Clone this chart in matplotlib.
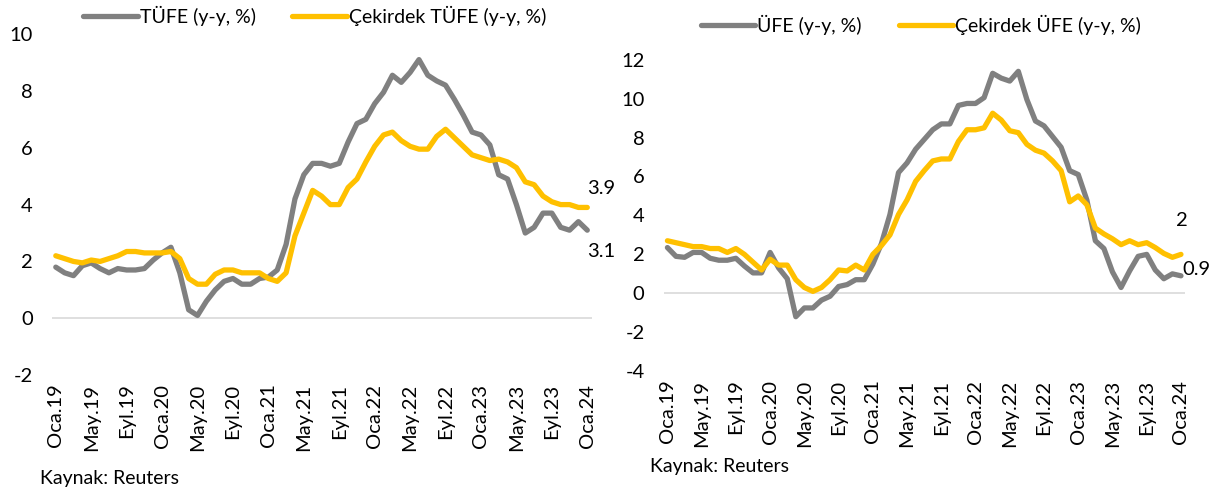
import numpy as np
import matplotlib
matplotlib.use('Agg')
from matplotlib import pyplot as plt

plt.rcParams['font.family'] = ['Lato', 'DejaVu Sans']
plt.rcParams['axes.unicode_minus'] = False

# monthly data, Oca.19 .. Oca.24
months = ['Oca', 'Şub', 'Mar', 'Nis', 'May', 'Haz', 'Tem', 'Ağu', 'Eyl', 'Eki', 'Kas', 'Ara']
labels = ['%s.%02d' % (months[i % 12], 19 + i // 12) for i in range(61)]

tufe = [1.8, 1.6, 1.5, 1.85, 1.95, 1.75, 1.6, 1.75, 1.7, 1.7, 1.75, 2.05,
        2.3, 2.5, 1.6, 0.3, 0.1, 0.6, 1.0, 1.3, 1.4, 1.2, 1.2, 1.4,
        1.45, 1.7, 2.6, 4.2, 5.05, 5.45, 5.45, 5.35, 5.45, 6.2, 6.85, 7.0,
        7.55, 7.95, 8.55, 8.3, 8.65, 9.1, 8.55, 8.35, 8.2, 7.7, 7.15, 6.55,
        6.45, 6.1, 5.05, 4.9, 4.0, 3.0, 3.2, 3.7, 3.7, 3.2, 3.1, 3.4, 3.1]
cekirdek_tufe = [2.2, 2.1, 2.0, 1.95, 2.05, 2.0, 2.1, 2.2, 2.35, 2.35, 2.3, 2.3,
                 2.3, 2.35, 2.1, 1.4, 1.2, 1.2, 1.55, 1.7, 1.7, 1.6, 1.6, 1.6,
                 1.4, 1.3, 1.6, 2.9, 3.7, 4.5, 4.3, 4.0, 4.0, 4.6, 4.9, 5.5,
                 6.05, 6.45, 6.55, 6.25, 6.05, 5.95, 5.95, 6.4, 6.65, 6.35, 6.05, 5.75,
                 5.65, 5.55, 5.6, 5.5, 5.3, 4.8, 4.7, 4.3, 4.1, 4.0, 4.0, 3.9, 3.9]

ufe = [2.35, 1.9, 1.85, 2.1, 2.1, 1.8, 1.7, 1.7, 1.8, 1.4, 1.05, 1.05,
       2.1, 1.3, 0.75, -1.2, -0.75, -0.75, -0.35, -0.15, 0.35, 0.45, 0.7, 0.7,
       1.5, 2.55, 4.05, 6.2, 6.7, 7.4, 7.9, 8.4, 8.7, 8.7, 9.65, 9.75,
       9.75, 10.05, 11.3, 11.05, 10.9, 11.4, 9.95, 8.85, 8.6, 8.05, 7.5, 6.3,
       6.1, 4.8, 2.7, 2.3, 1.1, 0.3, 1.15, 1.9, 2.0, 1.2, 0.75, 1.0, 0.9]
cekirdek_ufe = [2.7, 2.6, 2.5, 2.4, 2.4, 2.3, 2.3, 2.1, 2.3, 2.0, 1.6, 1.2,
                1.75, 1.45, 1.45, 0.7, 0.3, 0.1, 0.3, 0.7, 1.2, 1.15, 1.45, 1.2,
                2.0, 2.45, 3.0, 4.05, 4.8, 5.75, 6.3, 6.8, 6.9, 6.9, 7.8, 8.4,
                8.4, 8.5, 9.25, 8.9, 8.35, 8.25, 7.65, 7.35, 7.2, 6.8, 6.3, 4.7,
                5.0, 4.55, 3.35, 3.05, 2.8, 2.5, 2.7, 2.5, 2.6, 2.35, 2.05, 1.85, 2.0]

gray = '#808080'
gold = '#FFC000'
x = np.arange(len(labels))
fs = 14.5

fig = plt.figure(figsize=(12.15, 4.93), dpi=100)
ax1 = fig.add_axes([0.043, 0.239, 0.444, 0.692])
ax2 = fig.add_axes([0.5465, 0.247, 0.429, 0.632])


def style_axis(ax, ylo, yhi):
    ax.set_xlim(-0.4, 60.5)
    ax.set_ylim(ylo, yhi)
    ax.set_yticks(np.arange(ylo, yhi + 1, 2))
    ax.set_xticks(x[::4])
    ax.set_xticklabels(labels[::4], rotation=90)
    ax.tick_params(length=0, labelsize=fs, pad=6)
    ax.tick_params(axis='y', pad=14)
    for s in ax.spines.values():
        s.set_visible(False)
    ax.axhline(0, color='#d9d9d9', lw=1.2, zorder=0)


ax1.plot(x, tufe, color=gray, lw=3.8, label='TÜFE (y-y, %)', solid_capstyle='round')
ax1.plot(x, cekirdek_tufe, color=gold, lw=3.8, label='Çekirdek TÜFE (y-y, %)', solid_capstyle='round')
style_axis(ax1, -2, 10)
ax1.text(60.0, cekirdek_tufe[-1] + 0.35, '3.9', fontsize=fs, va='bottom')
ax1.text(60.0, tufe[-1] - 0.45, '3.1', fontsize=fs, va='top')
ax1.legend(loc='center', bbox_to_anchor=(0.259, 0.968), bbox_transform=fig.transFigure,
           ncol=2, frameon=False, fontsize=14, handlelength=2.8, handletextpad=0.1,
           columnspacing=1.9)

ax2.plot(x, ufe, color=gray, lw=3.8, label='ÜFE (y-y, %)', solid_capstyle='round')
ax2.plot(x, cekirdek_ufe, color=gold, lw=3.8, label='Çekirdek ÜFE (y-y, %)', solid_capstyle='round')
style_axis(ax2, -4, 12)
ax2.text(59.4, cekirdek_ufe[-1] + 1.3, '2', fontsize=fs, va='bottom')
ax2.text(60.2, ufe[-1] + 0.3, '0.9', fontsize=fs, va='center')
ax2.legend(loc='center', bbox_to_anchor=(0.758, 0.949), bbox_transform=fig.transFigure,
           ncol=2, frameon=False, fontsize=14, handlelength=2.8, handletextpad=0.1,
           columnspacing=1.9)

fig.text(0.033, 0.018, 'Kaynak: Reuters', fontsize=14)
fig.text(0.535, 0.043, 'Kaynak: Reuters', fontsize=14)

fig.savefig('out.png', dpi=100)
